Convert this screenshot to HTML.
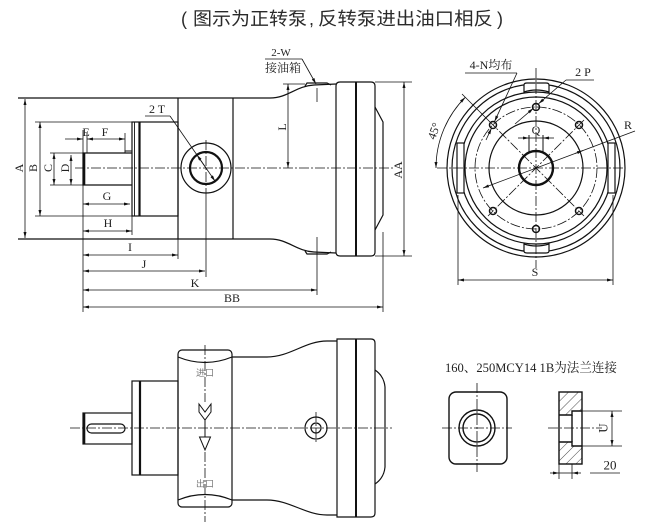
<!DOCTYPE html>
<html><head><meta charset="utf-8"><style>
html,body{margin:0;padding:0;background:#fff;}
svg{display:block;}
.t{font-family:"Liberation Serif","Noto Serif CJK SC",serif;fill:#222;}
</style></head><body>
<svg width="668" height="528" viewBox="0 0 668 528" xmlns="http://www.w3.org/2000/svg">
<defs>
<marker id="ar" viewBox="0 0 8 4" refX="8" refY="2" markerWidth="7" markerHeight="3" markerUnits="userSpaceOnUse" orient="auto-start-reverse"><path d="M0,0 L8,2 L0,4 z" fill="#111"/></marker>
<pattern id="hatch" patternUnits="userSpaceOnUse" width="7" height="7" patternTransform="rotate(45)"><line x1="0" y1="0" x2="0" y2="7" stroke="#222" stroke-width="0.8"/></pattern>
</defs>
<rect width="668" height="528" fill="#fff"/>

<!-- Title -->
<g font-family="'Liberation Sans','Noto Sans CJK SC',sans-serif" font-size="18" fill="#2a2a2a">
<text x="181" y="25">(</text>
<text x="193" y="25" textLength="114" lengthAdjust="spacingAndGlyphs">图示为正转泵</text>
<text x="309" y="25">,</text>
<text x="318" y="25" textLength="175" lengthAdjust="spacingAndGlyphs">反转泵进出油口相反</text>
<text x="497" y="25">)</text>
</g>

<!-- ============ TOP-LEFT SIDE VIEW ============ -->
<g stroke="#111" fill="none" stroke-width="1.2">
  <line x1="18" y1="98" x2="270" y2="98"/>
  <line x1="18" y1="239" x2="270" y2="239"/>
  <path d="M270,98 C288,98 296,86 314,85 L336,84"/>
  <path d="M270,239 C288,239 296,251 314,252 L336,253"/>
  <path d="M305,86 L307,83 L327,83 L331,85"/>
  <path d="M305,251 L307,254 L327,254 L331,252"/>
  <line x1="178" y1="98" x2="178" y2="239"/>
  <line x1="233" y1="98" x2="233" y2="239"/>
  <rect x="132" y="122" width="46" height="94"/>
  <line x1="134.5" y1="122" x2="134.5" y2="216" stroke-width="0.9"/>
  <line x1="139.5" y1="122" x2="139.5" y2="216" stroke-width="2.2"/>
  <path d="M132,153 L83,153 L83,185 L132,185"/>
  <path d="M125,153 L125,151 L132,151" stroke-width="0.9"/>
  <line x1="84" y1="153" x2="84" y2="185" stroke-width="2.6"/>
  <circle cx="206" cy="168" r="25"/>
  <circle cx="206" cy="168" r="16" stroke-width="2.2"/>
  <path d="M336,86 Q336,82 340,82 L371,82 Q375,82 375,86 L375,252 Q375,256 371,256 L340,256 Q336,256 336,252 Z"/>
  <line x1="356" y1="82" x2="356" y2="256" stroke-width="2"/>
  <path d="M375,107 L383,122 L383,215 L375,230"/>
</g>
<!-- center lines -->
<g stroke="#111" stroke-width="0.8" fill="none" stroke-dasharray="10 2 2 2">
  <line x1="75" y1="168" x2="395" y2="168"/>
  <line x1="206" y1="140" x2="206" y2="196"/>
</g>
<!-- extension lines -->
<g stroke="#111" stroke-width="0.8" fill="none">
  <line x1="83" y1="130" x2="83" y2="153"/>
  <line x1="87" y1="133" x2="87" y2="153"/>
  <line x1="125" y1="133" x2="125" y2="151"/>
  <line x1="83" y1="185" x2="83" y2="312"/>
  <line x1="35" y1="122" x2="132" y2="122"/>
  <line x1="35" y1="216" x2="132" y2="216"/>
  <line x1="50" y1="153" x2="83" y2="153"/>
  <line x1="50" y1="185" x2="83" y2="185"/>
  <line x1="132" y1="216" x2="132" y2="235"/>
  <line x1="178" y1="239" x2="178" y2="259"/>
  <line x1="206" y1="196" x2="206" y2="277"/>
  <line x1="317" y1="88" x2="317" y2="102"/>
  <line x1="317" y1="237" x2="317" y2="295"/>
  <line x1="383" y1="232" x2="383" y2="312"/>
  <line x1="283" y1="84" x2="305" y2="84"/>
  <line x1="375" y1="82" x2="412" y2="82"/>
  <line x1="375" y1="256" x2="412" y2="256"/>
  <line x1="145" y1="116" x2="170" y2="116"/>
  <line x1="170" y1="116" x2="206" y2="168"/>
  <line x1="265" y1="59" x2="302" y2="59"/>
</g>
<!-- dimension lines -->
<g stroke="#111" stroke-width="0.8" fill="none" marker-start="url(#ar)" marker-end="url(#ar)">
  <line x1="25" y1="99" x2="25" y2="238"/>
  <line x1="40" y1="122" x2="40" y2="216"/>
  <line x1="54" y1="153" x2="54" y2="185"/>
  <line x1="71" y1="155" x2="71" y2="185"/>
  <line x1="87" y1="139" x2="125" y2="139"/>
  <line x1="83" y1="204" x2="130" y2="204"/>
  <line x1="83" y1="231" x2="132" y2="231"/>
  <line x1="83" y1="255" x2="178" y2="255"/>
  <line x1="83" y1="271" x2="205" y2="271"/>
  <line x1="83" y1="290" x2="317" y2="290"/>
  <line x1="83" y1="307" x2="383" y2="307"/>
  <line x1="288" y1="84" x2="288" y2="168"/>
  <line x1="404" y1="82" x2="404" y2="256"/>
</g>
<g stroke="#111" stroke-width="0.8" fill="none" marker-end="url(#ar)">
  <line x1="65" y1="139" x2="83" y2="139"/>
  <line x1="206" y1="168" x2="196.9" y2="154.8"/>
  <line x1="206" y1="168" x2="215.1" y2="181.2"/>
  <line x1="302" y1="59" x2="316" y2="84"/>
</g>
<!-- labels -->
<g class="t" font-size="12" text-anchor="middle" dominant-baseline="central">
  <text x="19" y="168" transform="rotate(-90 19 168)">A</text>
  <text x="33" y="168" transform="rotate(-90 33 168)">B</text>
  <text x="48" y="168" transform="rotate(-90 48 168)">C</text>
  <text x="65" y="168" transform="rotate(-90 65 168)">D</text>
  <text x="86" y="132">E</text>
  <text x="105" y="132">F</text>
  <text x="107" y="196">G</text>
  <text x="108" y="223">H</text>
  <text x="130" y="247">I</text>
  <text x="144" y="264">J</text>
  <text x="195" y="283">K</text>
  <text x="232" y="298">BB</text>
  <text x="282" y="127" transform="rotate(-90 282 127)">L</text>
  <text x="398" y="170" transform="rotate(-90 398 170)">AA</text>
  <text x="157" y="109">2 T</text>
  <text x="281" y="53" font-size="11">2-W</text>
  <text x="283" y="68" font-size="12">接油箱</text>
</g>

<!-- ============ END VIEW ============ -->
<g stroke="#111" fill="none" stroke-width="1.2">
  <circle cx="536" cy="168" r="89"/>
  <circle cx="536" cy="168" r="84"/>
  <circle cx="536" cy="168" r="76"/>
  <circle cx="536" cy="168" r="71"/>
  <circle cx="536" cy="168" r="47"/>
  <circle cx="536" cy="168" r="17" stroke-width="2.4"/>
  <rect x="457" y="143" width="7" height="50" fill="#fff"/>
  <rect x="608" y="143" width="7" height="50" fill="#fff"/>
  <path d="M524,92 L524,85 Q524,83 527,83 L546,83 Q549,83 549,85 L549,92 Q536,88 524,92 Z" fill="#fff"/>
  <path d="M524,244 Q536,248 549,244 L549,251 Q549,253 546,253 L527,253 Q524,253 524,251 Z" fill="#fff"/>
  <g stroke-width="1.5">
    <circle cx="536" cy="107" r="3.5"/>
    <circle cx="536" cy="229" r="3.5"/>
    <circle cx="493" cy="125" r="3.5"/>
    <circle cx="579" cy="125" r="3.5"/>
    <circle cx="493" cy="211" r="3.5"/>
    <circle cx="579" cy="211" r="3.5"/>
  </g>
  <line x1="529" y1="135" x2="529" y2="152" stroke-width="1"/>
  <line x1="543" y1="135" x2="543" y2="152" stroke-width="1"/>
</g>
<g stroke="#111" stroke-width="0.8" fill="none" stroke-dasharray="10 2 2 2">
  <circle cx="536" cy="168" r="61"/>
  <line x1="437" y1="168" x2="625" y2="168"/>
  <line x1="536" y1="68" x2="536" y2="268"/>
  <line x1="488" y1="120" x2="584" y2="216"/>
  <line x1="584" y1="120" x2="488" y2="216"/>
</g>
<g stroke="#111" stroke-width="0.8" fill="none">
  <line x1="488" y1="120" x2="462" y2="94"/>
  <line x1="529" y1="138" x2="543" y2="138"/>
  <line x1="465" y1="73" x2="517" y2="73"/>
  <line x1="566" y1="80" x2="594" y2="80"/>
  <line x1="458" y1="195" x2="458" y2="285"/>
  <line x1="613" y1="195" x2="613" y2="285"/>
  <line x1="575" y1="153.5" x2="635" y2="131"/>
</g>
<g stroke="#111" stroke-width="0.8" fill="none" marker-end="url(#ar)">
  <line x1="518" y1="138" x2="529" y2="138"/>
  <line x1="554" y1="138" x2="543" y2="138"/>
  <line x1="517" y1="73" x2="494.5" y2="121.6"/>
  <line x1="486" y1="140" x2="491.5" y2="128.2"/>
  <line x1="566" y1="80" x2="538.6" y2="103.7"/>
  <line x1="515" y1="124" x2="533.4" y2="108.3"/>
  <line x1="575" y1="153.5" x2="583" y2="150.5"/>
  <line x1="575" y1="153.5" x2="483" y2="188"/>
</g>
<g stroke="#111" stroke-width="0.8" fill="none" marker-start="url(#ar)" marker-end="url(#ar)">
  <path d="M436,168 A100,100 0 0 1 465.3,97.3"/>
  <line x1="458" y1="280" x2="613" y2="280"/>
</g>
<g class="t" font-size="12" text-anchor="middle" dominant-baseline="central">
  <text x="491" y="65">4-N均布</text>
  <text x="583" y="72">2 P</text>
  <text x="628" y="125">R</text>
  <text x="536" y="130">Q</text>
  <text x="535" y="272">S</text>
  <text x="434" y="131" transform="rotate(-70 434 131)">45°</text>
</g>

<!-- ============ BOTTOM VIEW ============ -->
<g stroke="#111" fill="none" stroke-width="1.2">
  <rect x="83" y="413" width="49" height="31"/>
  <line x1="84" y1="413" x2="84" y2="444" stroke-width="2.6"/>
  <rect x="87" y="424" width="38" height="9" rx="4.5"/>
  <rect x="132" y="381" width="46" height="94"/>
  <line x1="140" y1="381" x2="140" y2="475" stroke-width="2.2"/>
  <rect x="178" y="350" width="54" height="157" rx="4"/>
  <path d="M178,357 Q205,368 232,357"/>
  <path d="M178,500 Q205,489 232,500"/>
  <path d="M232,357 L267,357 C290,357 305,341 327,341 L337,341"/>
  <path d="M232,500 L267,500 C290,500 305,515 327,515 L337,515"/>
  <circle cx="316" cy="428" r="11"/>
  <circle cx="316" cy="428" r="5"/>
  <path d="M337,339 L371,339 Q375,339 375,343 L375,513 Q375,517 371,517 L337,517 Z"/>
  <line x1="356" y1="339" x2="356" y2="517" stroke-width="2"/>
  <path d="M375,370 Q384,376 385,387 L385,467 Q384,478 375,484"/>
  <path d="M199,404 L205,412 L211,404 L211,412 L205,420 L199,412 Z" stroke-width="1"/>
  <line x1="205" y1="420" x2="205" y2="437" stroke-width="1"/>
  <path d="M199.5,437 L210.5,437 L205,450 Z" stroke-width="1"/>
</g>
<g stroke="#111" stroke-width="0.8" fill="none" stroke-dasharray="10 2 2 2">
  <line x1="70" y1="428" x2="392" y2="428"/>
  <line x1="205" y1="345" x2="205" y2="402"/>
  <line x1="205" y1="452" x2="205" y2="522"/>
  <line x1="316" y1="412" x2="316" y2="444"/>
</g>
<g font-family="'Liberation Sans','Noto Sans CJK SC',sans-serif" font-size="9" fill="#777" text-anchor="middle">
  <text x="205" y="376">进口</text>
  <text x="205" y="487">出口</text>
</g>

<!-- ============ BOTTOM RIGHT ============ -->
<text class="t" x="445" y="372" font-size="13" textLength="172" lengthAdjust="spacingAndGlyphs" fill="#333">160、250MCY14 1B为法兰连接</text>
<g stroke="#111" fill="none" stroke-width="1.4">
  <rect x="449" y="392" width="58" height="72" rx="7"/>
  <circle cx="477" cy="428" r="18"/>
  <circle cx="477" cy="428" r="14"/>
</g>
<g stroke="#111" stroke-width="0.8" fill="none" stroke-dasharray="10 2 2 2">
  <line x1="442" y1="428" x2="512" y2="428"/>
  <line x1="477" y1="383" x2="477" y2="472"/>
  <line x1="548" y1="428" x2="602" y2="428"/>
</g>
<path d="M559,392 L582,392 L582,411 L572,411 L572,415 L559,415 Z" fill="url(#hatch)"/>
<path d="M559,442 L572,442 L572,446 L582,446 L582,464 L559,464 Z" fill="url(#hatch)"/>
<g stroke="#111" fill="none" stroke-width="1.4">
  <rect x="559" y="392" width="23" height="72"/>
  <path d="M559,415 L572,415 L572,411 L582,411"/>
  <path d="M559,442 L572,442 L572,446 L582,446"/>
  <line x1="572" y1="415" x2="572" y2="442"/>
</g>
<g stroke="#111" stroke-width="0.8" fill="none">
  <line x1="582" y1="411" x2="622" y2="411"/>
  <line x1="582" y1="446" x2="622" y2="446"/>
  <line x1="559" y1="464" x2="559" y2="479"/>
  <line x1="572" y1="464" x2="572" y2="479"/>
  <line x1="559" y1="473" x2="572" y2="473"/>
  <line x1="590" y1="473" x2="620" y2="473"/>
  <line x1="612" y1="411" x2="612" y2="446" marker-start="url(#ar)" marker-end="url(#ar)"/>
  <line x1="550" y1="473" x2="559" y2="473" marker-end="url(#ar)"/>
  <line x1="581" y1="473" x2="572" y2="473" marker-end="url(#ar)"/>
</g>
<g class="t" font-size="13" text-anchor="middle" dominant-baseline="central">
  <text x="603" y="428" transform="rotate(-90 603 428)">U</text>
  <text x="610" y="465">20</text>
</g>
</svg>
</body></html>
